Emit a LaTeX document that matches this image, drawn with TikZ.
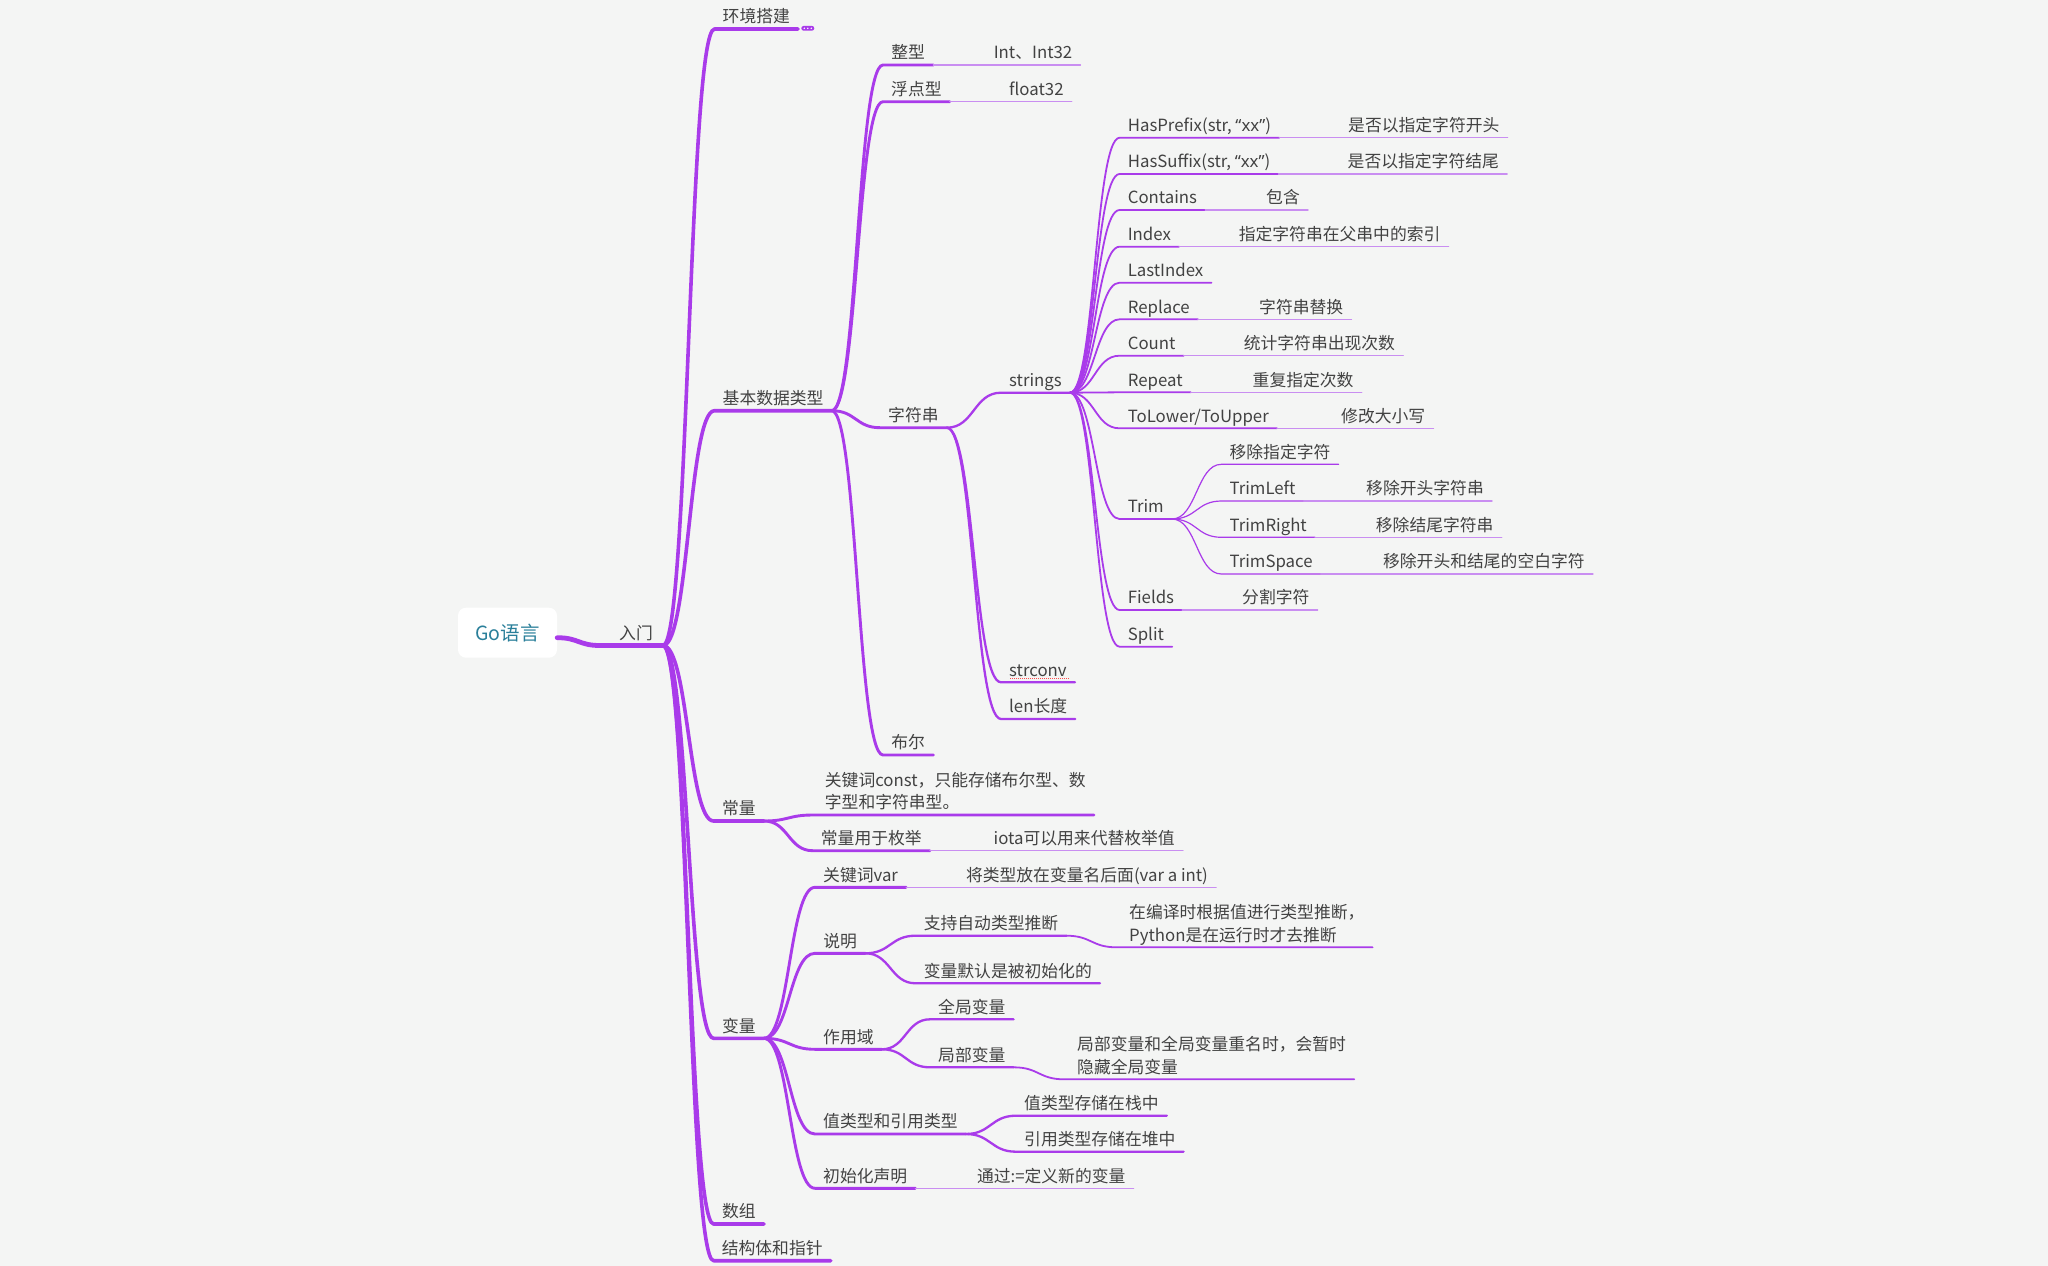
\documentclass[tikz,border=0pt]{standalone}
\usepackage{fontspec}
\setmainfont{Noto Sans CJK SC}
\newfontfamily\latq{Noto Sans}
\usetikzlibrary{calc}
\definecolor{bgc}{HTML}{F4F5F4}
\definecolor{pur}{HTML}{A93BEA}
\definecolor{purl}{HTML}{C98EF1}
\definecolor{txt}{HTML}{424242}
\definecolor{rootc}{HTML}{2A7F9A}
\newcommand\lastdp{\rule[-6pt]{0pt}{6pt}}
\tikzset{
  sc/.style={to path={let \p1=(\tikztostart), \p2=(\tikztotarget) in
      .. controls ({0.5*\x1+0.5*\x2},\y1) and ({0.5*\x1+0.5*\x2},\y2) .. (\tikztotarget)}},
  ln/.style={draw=pur, line cap=round, line join=round, line width=#1},
  l0/.style={ln=4.8pt},
  l1/.style={ln=3.6pt},
  l2/.style={ln=2.9pt},
  l3/.style={ln=2.3pt},
  l4/.style={ln=1.8pt},
  l5/.style={ln=1.2pt},
  vl/.style={draw=purl, line width=1.4pt, line cap=round},
  tp/.style={anchor=south west, inner xsep=8pt, inner ysep=0pt, minimum width=50pt,
      text height=13pt, text depth=6pt, text=txt, font=\fontsize{16.8}{22.5}\selectfont},
  vt/.style={tp, minimum width=0pt},
  tpm/.style={anchor=south west, inner xsep=8pt, inner ysep=0pt, align=left,
      text=txt, font=\fontsize{16.8}{22.5}\selectfont},
  root/.style={fill=white, rounded corners=8pt, minimum width=99pt, minimum height=50pt,
      inner sep=0pt, text=rootc, font=\fontsize{19.5}{22}\selectfont},
}
\begin{document}
\begin{tikzpicture}[x=1pt,y=-1pt]
\fill[bgc] (0,0) rectangle (2048,1266);
\useasboundingbox (0,0) rectangle (2048,1266);

% root and first level
\node[root] (go) at (507.5,632.7) {Go语言};
\coordinate (go-o) at ([yshift=-5pt]go.east);
\coordinate (rm-s) at (600,645.5);
\node[tp, anchor=south east, inner xsep=10pt, minimum width=0pt] (rm) at (663,645.5) {入门};
\draw[l0] (go-o) to[sc] (rm-s) -- (rm.south east);

\node[tp] (hj) at (714.5,29) {环境搭建};
\node[tp] (jb) at (714.5,410.7) {基本数据类型};
\node[tp] (cl) at (713.6,821) {常量};
\node[tp] (bl) at (713.6,1038.3) {变量};
\node[tp] (sz) at (713.6,1224) {数组};
\node[tp] (jg) at (713.6,1260.7) {结构体和指针};
\foreach \k in {hj,jb,cl,bl,sz,jg}
  \draw[l1] (rm.south east) to[sc] (\k.south west) -- (\k.south east);

% collapsed marker
\node[fill=pur, rounded corners=2.4pt, minimum width=13pt, minimum height=4.8pt, inner sep=0pt, anchor=west]
  (hjx) at ($(hj.south east)+(3,-0.7)$) {};
\foreach \d in {-3.5,0,3.5} \fill[white] ($(hjx.center)+(\d,0)$) circle (0.85pt);

% basic data types
\node[tp] (zx) at (883,65) {整型};
\node[tp] (fd) at (883,101.7) {浮点型};
\node[tp] (zf) at (880,427.7) {字符串};
\node[tp] (be) at (883,755) {布尔};
\foreach \k in {zx,fd,zf,be}
  \draw[l2] (jb.south east) to[sc] (\k.south west) -- (\k.south east);
\node[vt] (zxv) at (985.6,65) {Int、Int32};
\node[vt] (fdv) at (1001,101.7) {float32};
\draw[vl] (zx.south east) -- (zxv.south west) -- (zxv.south east);
\draw[vl] (fd.south east) -- (fdv.south west) -- (fdv.south east);

% strings
\node[tp] (st) at (1001,392.7) {strings};
\node[tp] (scv) at (1001,682.3) {strconv};
\node[tp] (lenn) at (1001,719) {len长度};
\foreach \k in {st,scv,lenn}
  \draw[l3] (zf.south east) to[sc] (\k.south west) -- (\k.south east);
\draw[red!70!white, line width=1.1pt, dash pattern=on 0.9pt off 1.1pt]
  ($(scv.south west)+(9,-4)$) -- ($(scv.south east)+(-6,-4)$);

\node[tp] (hp) at (1119.6,137.7) {HasPrefix(str, {\latq “xx”})};
\node[tp] (hs) at (1119.6,174) {HasSuffix(str, {\latq “xx”})};
\node[tp] (ct) at (1119.6,210) {Contains};
\node[tp] (ix) at (1119.6,246.7) {Index};
\node[tp] (li) at (1119.6,282.7) {LastIndex};
\node[tp] (rp) at (1119.6,319.3) {Replace};
\node[tp] (cn) at (1119.6,355.7) {Count};
\node[tp] (rt) at (1119.6,392.3) {Repeat};
\node[tp] (tl) at (1119.6,428.3) {ToLower/ToUpper};
\node[tp] (tr) at (1119.6,519) {Trim};
\node[tp] (fe) at (1119.6,610) {Fields};
\node[tp] (sp) at (1119.6,646.7) {Split};
\foreach \k in {hp,hs,ct,ix,li,rp,cn,rt,tl,tr,fe,sp}
  \draw[l4] (st.south east) to[sc] (\k.south west) -- (\k.south east);

\node[vt] (hpv) at (1340,137.7) {是否以指定字符开头};
\node[vt] (hsv) at (1339.5,174) {是否以指定字符结尾};
\node[vt] (ctv) at (1258,210) {包含};
\node[vt] (ixv) at (1230.6,246.7) {指定字符串在父串中的索引};
\node[vt] (rpv) at (1251,319.3) {字符串替换};
\node[vt] (cnv) at (1235.6,355.7) {统计字符串出现次数};
\node[vt] (rtv) at (1244.5,392.3) {重复指定次数};
\node[vt] (tlv) at (1333,428.3) {修改大小写};
\node[vt] (fev) at (1234,610) {分割字符};
\foreach \k in {hp,hs,ct,ix,rp,cn,rt,tl,fe}
  \draw[vl] (\k.south east) -- (\k v.south west) -- (\k v.south east);

% trim family
\node[tp] (t1) at (1221.4,464.3) {移除指定字符};
\node[tp] (t2) at (1221.4,501) {TrimLeft};
\node[tp] (t3) at (1221.4,537.3) {TrimRight};
\node[tp] (t4) at (1221.4,574) {TrimSpace};
\foreach \k in {t1,t2,t3,t4}
  \draw[l5] (tr.south east) to[sc] (\k.south west) -- (\k.south east);
\node[vt] (t2v) at (1358,501) {移除开头字符串};
\node[vt] (t3v) at (1367.7,537.3) {移除结尾字符串};
\node[vt] (t4v) at (1374.9,574) {移除开头和结尾的空白字符};
\foreach \k in {t2,t3,t4}
  \draw[vl] (\k.south east) -- (\k v.south west) -- (\k v.south east);

% constants
\node[tpm] (c1) at (816.7,815) {关键词const，只能存储布尔型、数\\字型和字符串型。\lastdp};
\coordinate (c1s) at ($(c1.south west)+(-4,0)$);
\node[tp] (c2) at (812.7,850.7) {常量用于枚举};
\draw[l2] (cl.south east) to[sc] (c1s) -- (c1.south east);
\draw[l2] (cl.south east) to[sc] (c2.south west) -- (c2.south east);
\node[vt] (c2v) at (985.5,850.7) {iota可以用来代替枚举值};
\draw[vl] (c2.south east) -- (c2v.south west) -- (c2v.south east);

% variables
\node[tp] (v1) at (815,887.3) {关键词var};
\node[tp] (v2) at (815,953.3) {说明};
\node[tp] (v3) at (815,1049.3) {作用域};
\node[tp] (v4) at (815,1134) {值类型和引用类型};
\node[tp] (v5) at (815,1188.3) {初始化声明};
\foreach \k in {v1,v2,v3,v4,v5}
  \draw[l2] (bl.south east) to[sc] (\k.south west) -- (\k.south east);
\node[vt] (v1v) at (957.8,887.3) {将类型放在变量名后面(var a int)};
\node[vt] (v5v) at (968.8,1188.3) {通过:=定义新的变量};
\foreach \k in {v1,v5}
  \draw[vl] (\k.south east) -- (\k v.south west) -- (\k v.south east);

\node[tp] (v21) at (915.6,935.7) {支持自动类型推断};
\node[tp] (v22) at (915.6,983.3) {变量默认是被初始化的};
\foreach \k in {v21,v22}
  \draw[l3] (v2.south east) to[sc] (\k.south west) -- (\k.south east);
\node[tpm] (v211) at (1121,947.3) {在编译时根据值进行类型推断，\\Python是在运行时才去推断\lastdp};
\coordinate (v211s) at ($(v211.south west)+(-4.5,0)$);
\draw[l4] (v21.south east) to[sc] (v211s) -- (v211.south east);

\node[tp] (v31) at (930,1019.3) {全局变量};
\node[tp] (v32) at (930,1067.3) {局部变量};
\foreach \k in {v31,v32}
  \draw[l3] (v3.south east) to[sc] (\k.south west) -- (\k.south east);
\node[tpm] (v321) at (1069,1079.3) {局部变量和全局变量重名时，会暂时\\隐藏全局变量\lastdp};
\coordinate (v321s) at ($(v321.south west)+(-5,0)$);
\draw[l4] (v32.south east) to[sc] (v321s) -- (v321.south east);

\node[tp] (v41) at (1016,1115.7) {值类型存储在栈中};
\node[tp] (v42) at (1016,1151.7) {引用类型存储在堆中};
\foreach \k in {v41,v42}
  \draw[l3] (v4.south east) to[sc] (\k.south west) -- (\k.south east);
\end{tikzpicture}
\end{document}
